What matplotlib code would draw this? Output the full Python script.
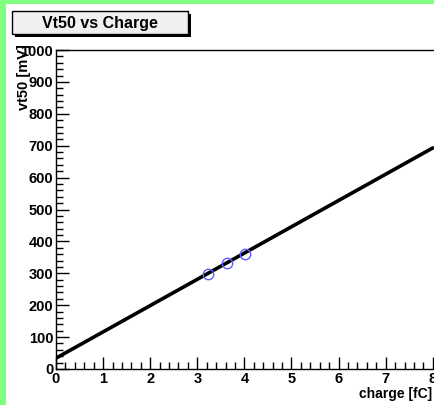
import matplotlib
matplotlib.use("Agg")
import matplotlib.pyplot as plt
from matplotlib.patches import Rectangle
from matplotlib.ticker import MultipleLocator

plt.rcParams['font.family'] = ['Liberation Sans', 'DejaVu Sans']
plt.rcParams['font.weight'] = 'bold'

# fitted vt50 line (end points) and the measured points
fit_charge = [0.0, 8.0]
fit_vt50 = [34, 693]
charge = [3.22, 3.62, 4.01]
vt50 = [299, 331, 362]

W, H = 435, 405
fig = plt.figure(figsize=(W / 100, H / 100), dpi=100)
fig.patch.set_facecolor('#80ff80')

# white pad inside the green canvas border
fig.add_artist(Rectangle((6 / W, 0), 1, 1 - 4 / H, transform=fig.transFigure,
                         facecolor='white', edgecolor='none', zorder=0))

x0, x1 = 56, 450
y_top, y_bot = 50, 369
ax = fig.add_axes([x0 / W, (H - y_bot) / H, (x1 - x0) / W, (y_bot - y_top) / H])
ax.set_facecolor('white')
ax.set_xlim(0, (x1 - x0) / 47.1)
ax.set_ylim(0, 1000)

ax.plot(fit_charge, fit_vt50, color='black', lw=2.6, solid_capstyle='round', zorder=3)
ax.plot(charge, vt50, 'o', ms=7.5, mfc='none', mec='#6060ff', mew=1.0, zorder=4)

ax.spines['right'].set_visible(False)
for s in ax.spines.values():
    s.set_linewidth(1.0)

ax.xaxis.set_major_locator(MultipleLocator(1))
ax.xaxis.set_minor_locator(MultipleLocator(0.2))
ax.yaxis.set_major_locator(MultipleLocator(100))
ax.yaxis.set_minor_locator(MultipleLocator(20))
ax.tick_params(which='both', direction='in', top=False, right=False, width=1, colors='black')
ax.tick_params(which='major', length=9, labelsize=10.5, pad=2)
ax.tick_params(which='minor', length=5)
ax.set_xticks(range(0, 9))
ax.set_xticklabels([str(i) for i in range(0, 9)], fontweight='bold')
ax.set_yticks(range(0, 1001, 100))
ax.set_yticklabels([str(i) for i in range(0, 1001, 100)], fontweight='bold')
for lbl in ax.get_xticklabels() + ax.get_yticklabels():
    lbl.set_clip_on(False)

fig.text(432 / W, 1 - 398 / H, 'charge [fC]', ha='right', va='baseline',
         fontsize=10, fontweight='bold')
fig.text(24 / W, 1 - 44 / H, 'vt50 [mV]', ha='center', va='top', rotation=90,
         fontsize=10.5, fontweight='bold')

# title box with drop shadow
bx, by, bw, bh = 12, 11, 176, 23
fig.add_artist(Rectangle(((bx + 3) / W, 1 - (by + bh + 3) / H), bw / W, bh / H,
                         transform=fig.transFigure, facecolor='black', edgecolor='none', zorder=5))
fig.add_artist(Rectangle((bx / W, 1 - (by + bh) / H), bw / W, bh / H,
                         transform=fig.transFigure, facecolor='#f0f0f0', edgecolor='black',
                         lw=1.0, zorder=6))
fig.text((bx + bw / 2) / W, 1 - (by + bh / 2 + 1) / H, 'Vt50 vs Charge', ha='center',
         va='center', fontsize=11.5, fontweight='bold', zorder=7)

fig.savefig('out.png', dpi=100, facecolor=fig.get_facecolor())
